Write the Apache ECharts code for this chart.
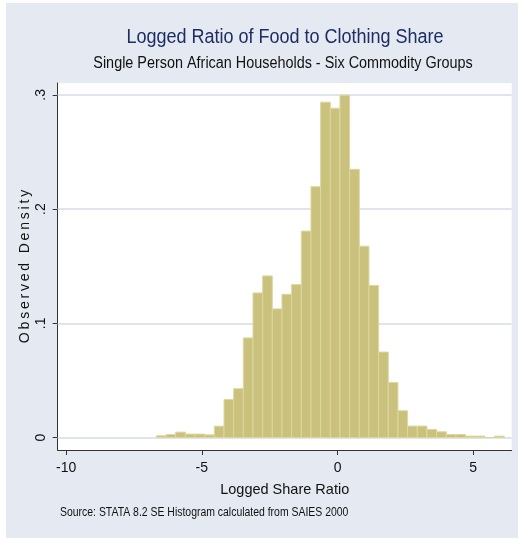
<!DOCTYPE html>
<html>
<head>
<meta charset="utf-8">
<script src="https://cdn.jsdelivr.net/npm/echarts@6/dist/echarts.min.js"></script>
<style>
  html, body { margin: 0; padding: 0; background: #ffffff; }
  #chart { width: 520px; height: 542px; }
</style>
</head>
<body>
<div id="chart"></div>
<script>
// Histogram of the logged food/clothing share ratio (density scale)
const binStart = -6.675;   // lower edge of the first bin
const binWidth = 0.356;    // width of every bin
const density = [
  0.0015, 0.0026, 0.0047, 0.0030, 0.0030, 0.0023, 0.0099, 0.0333, 0.0427,
  0.0872, 0.1266, 0.1415, 0.1126, 0.1254, 0.1339, 0.1807, 0.2196, 0.2936,
  0.2883, 0.2997, 0.2348, 0.1675, 0.1331, 0.0748, 0.0482, 0.0234, 0.0100,
  0.0100, 0.0070, 0.0050, 0.0026, 0.0026, 0.0012, 0.0012, 0.0000, 0.0012
];
const xTicks = [-10, -5, 0, 5];
const yTicks = [0, 0.1, 0.2, 0.3];

const titleText = 'Logged Ratio of Food to Clothing Share';
const subtitleText = 'Single Person African Households - Six Commodity Groups';
const xName = 'Logged Share Ratio';
const yName = 'Observed Density';
const noteText = 'Source: STATA 8.2 SE Histogram calculated from SAIES 2000';

const FONT = '"Liberation Sans", Arial, sans-serif';
const NARROW = 0.87; // horizontal squeeze for the condensed note type

// [lower edge, upper edge, density] for each bin
const bins = density.map((d, i) => [binStart + i * binWidth, binStart + (i + 1) * binWidth, d]);

// spread letters the way the y title is set
const spaced = s => s.split('').join('\u2009');

const chart = echarts.init(document.getElementById('chart'), null, { renderer: 'canvas' });

chart.setOption({
  animation: false,
  backgroundColor: '#ffffff',
  graphic: [
    {
      type: 'rect', z: -10, silent: true,
      shape: { x: 6, y: 3, width: 512, height: 535 },
      style: { fill: '#E5E9F2' }
    },
    {
      type: 'text', x: 285, y: 27, scaleX: 0.9, silent: true,
      style: {
        text: titleText, font: '20px ' + FONT, fill: '#1C2E63',
        textAlign: 'center', textVerticalAlign: 'top'
      }
    },
    {
      type: 'text', x: 283, y: 56, scaleX: 0.9, silent: true,
      style: {
        text: subtitleText, font: '16px ' + FONT, fill: '#111111',
        textAlign: 'center', textVerticalAlign: 'top'
      }
    },
    {
      type: 'text', x: 60, y: 507, scaleX: NARROW, silent: true,
      style: { text: noteText, font: '12px ' + FONT, fill: '#111111', textVerticalAlign: 'top' }
    }
  ],
  grid: {
    left: 57.7, right: 8.3, top: 83, bottom: 92,
    show: true, backgroundColor: '#ffffff', borderWidth: 0
  },
  xAxis: {
    type: 'value', min: -10.31, max: 6.416,
    name: xName, nameLocation: 'middle', nameGap: 32, nameMoveOverlap: false,
    nameTextStyle: { fontFamily: FONT, fontSize: 14.5, color: '#111111' },
    axisLine: { show: true, onZero: false, lineStyle: { color: '#333333', width: 1 } },
    axisTick: { show: true, customValues: xTicks, length: 5, lineStyle: { color: '#333333' } },
    axisLabel: {
      customValues: xTicks, margin: 11,
      fontFamily: FONT, fontSize: 14, color: '#111111',
      formatter: v => String(v)
    },
    splitLine: { show: false }
  },
  yAxis: {
    type: 'value', min: -0.01095, max: 0.3104,
    name: spaced(yName), nameLocation: 'middle', nameGap: 26, nameRotate: 90,
    nameMoveOverlap: false,
    nameTextStyle: { fontFamily: FONT, fontSize: 14, color: '#111111' },
    axisLine: { show: true, onZero: false, lineStyle: { color: '#333333', width: 1 } },
    axisTick: { show: true, customValues: yTicks, length: 5, lineStyle: { color: '#333333' } },
    axisLabel: {
      customValues: yTicks, margin: 10, rotate: 90,
      fontFamily: FONT, fontSize: 14, color: '#111111',
      formatter: v => (v === 0 ? '0' : '.' + Math.round(v * 10))
    },
    splitLine: { show: false }
  },
  series: [
    {
      type: 'custom',
      z: 3,
      data: bins,
      encode: { x: [0, 1], y: 2 },
      clip: true,
      renderItem: (params, api) => {
        const lo = api.coord([api.value(0), api.value(2)]);
        const hi = api.coord([api.value(1), 0]);
        return {
          type: 'rect',
          shape: { x: lo[0], y: lo[1], width: hi[0] - lo[0], height: hi[1] - lo[1] },
          style: { fill: '#C9C17C', stroke: '#DDD79F', lineWidth: 1 }
        };
      }
    },
    {
      // horizontal grid rules at the labelled densities, behind the bars
      type: 'line',
      z: 1,
      data: [],
      silent: true,
      markLine: {
        silent: true, symbol: 'none', z: 1, animation: false,
        label: { show: false },
        lineStyle: { color: '#DFE4EE', width: 1.8, type: 'solid' },
        data: yTicks.map(v => ({ yAxis: v }))
      }
    }
  ]
});
</script>
</body>
</html>
